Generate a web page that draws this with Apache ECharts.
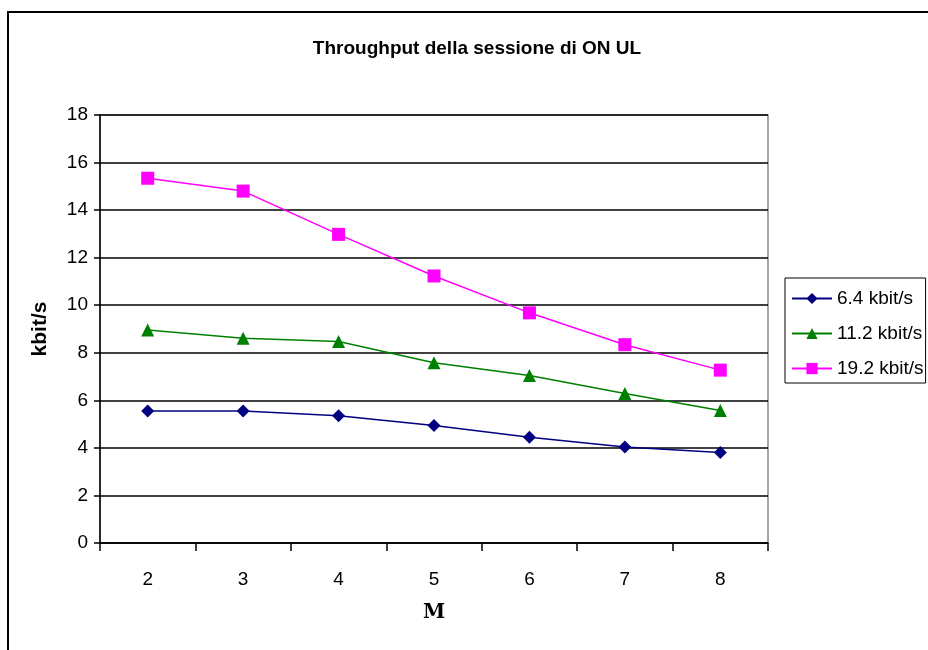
<!DOCTYPE html>
<html lang="it">
<head>
    <meta charset="UTF-8">
    <title>Throughput della sessione di ON UL</title>
    <script src="https://cdn.jsdelivr.net/npm/echarts@6/dist/echarts.min.js"></script>
    <style>
        html, body { margin: 0; padding: 0; background: #fff; }
        #container { width: 928px; height: 650px; }
    </style>
</head>
<body>
    <div id="container"></div>
<script type="text/javascript">
    // dati
    var categories = ['2', '3', '4', '5', '6', '7', '8'];
    var s64 = [5.55, 5.55, 5.35, 4.94, 4.45, 4.04, 3.81];
    var s112 = [8.96, 8.61, 8.47, 7.58, 7.04, 6.29, 5.57];
    var s192 = [15.34, 14.8, 12.98, 11.23, 9.68, 8.34, 7.27];
    var seriesNames = ['6.4 kbit/s', '11.2 kbit/s', '19.2 kbit/s'];

    var dom = document.getElementById('container');
    var myChart = echarts.init(dom, null, { renderer: 'canvas' });

    var font = 'Liberation Sans, Arial, sans-serif';

    function mkSeries(name, data, color, symbol, size) {
        return {
            name: name,
            type: 'line',
            data: data,
            symbol: symbol,
            symbolSize: size,
            lineStyle: { color: color, width: 1.5 },
            itemStyle: { color: color },
            animation: false
        };
    }

    var option = {
        backgroundColor: '#fff',
        title: {
            text: 'Throughput della sessione di ON UL',
            left: 472,
            textAlign: 'center',
            top: 34,
            textStyle: { fontFamily: font, fontSize: 19, fontWeight: 'bold', color: '#000' }
        },
        graphic: [{
            type: 'rect',
            shape: { x: 8, y: 12, width: 940, height: 660 },
            style: { fill: 'none', stroke: '#000', lineWidth: 2 },
            z: -1
        }, {
            type: 'rect',
            shape: { x: 100, y: 115, width: 668, height: 428 },
            style: { fill: 'none', stroke: '#888', lineWidth: 1.5 },
            z: -1
        }],
        legend: {
            orient: 'vertical',
            left: 785,
            top: 278,
            itemWidth: 40,
            itemHeight: 14,
            itemGap: 16,
            padding: [11, 2, 5, 6],
            borderColor: '#000',
            borderWidth: 1,
            textStyle: { fontFamily: font, fontSize: 19, color: '#000' },
            data: seriesNames
        },
        grid: { left: 100, right: 160, top: 115, bottom: 107 },
        xAxis: {
            type: 'category',
            data: categories,
            boundaryGap: true,
            name: 'M',
            nameLocation: 'middle',
            nameGap: 60,
            nameTextStyle: { fontFamily: 'DejaVu Serif, serif', fontSize: 20, fontWeight: 900, color: '#000' },
            axisLine: { lineStyle: { color: '#000', width: 1.5 } },
            axisTick: { show: true, length: 8, lineStyle: { color: '#000', width: 1.5 } },
            axisLabel: { fontFamily: font, fontSize: 19, color: '#000', margin: 27 },
            splitLine: { show: false }
        },
        yAxis: {
            type: 'value',
            min: 0,
            max: 18,
            interval: 2,
            name: 'kbit/s',
            nameLocation: 'middle',
            nameGap: 49,
            nameTextStyle: { fontFamily: font, fontSize: 21, fontWeight: 'bold', color: '#000' },
            axisLine: { show: true, lineStyle: { color: '#000', width: 1.5 } },
            axisTick: { show: true, length: 6, lineStyle: { color: '#000', width: 1.5 } },
            axisLabel: { fontFamily: font, fontSize: 19, color: '#000', margin: 12 },
            splitLine: { show: true, lineStyle: { color: '#000', width: 1.5 } }
        },
        series: [
            mkSeries(seriesNames[0], s64, '#000080', 'diamond', 13),
            mkSeries(seriesNames[1], s112, '#008000', 'triangle', 13),
            mkSeries(seriesNames[2], s192, '#ff00ff', 'rect', 13)
        ]
    };

    myChart.setOption(option);
    window.addEventListener('resize', myChart.resize);
</script>
</body>
</html>
